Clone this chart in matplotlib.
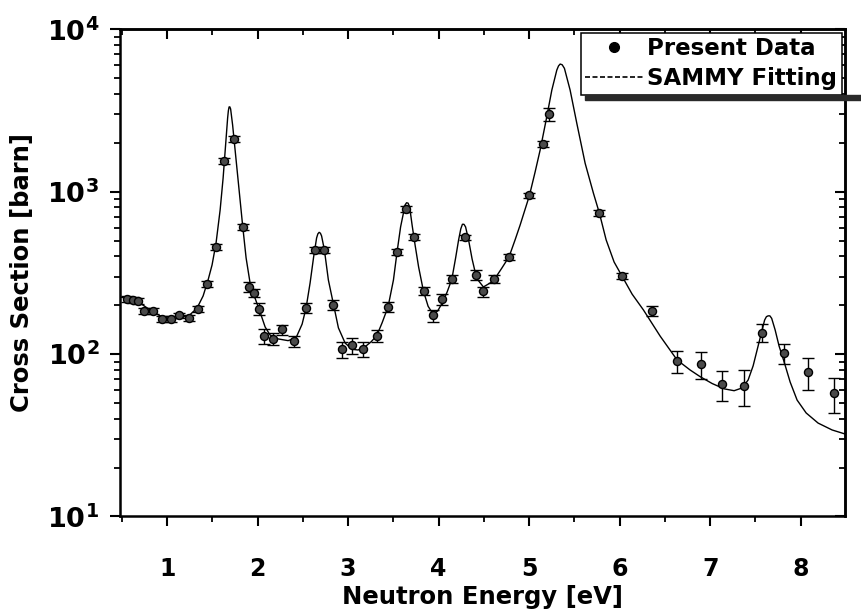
import numpy as np
import matplotlib
matplotlib.use('Agg')
import matplotlib.pyplot as plt
from matplotlib.lines import Line2D
from matplotlib.patches import Rectangle
from matplotlib.ticker import FixedLocator, LogLocator, FuncFormatter, MultipleLocator, NullFormatter

plt.rcParams['font.family'] = ['DejaVu Sans']
plt.rcParams['font.weight'] = 'bold'
plt.rcParams['mathtext.fontset'] = 'dejavusans'

# ---- measured data points (Present Data) ----
data_energy = [0.555, 0.621, 0.683, 0.743, 0.842, 0.948, 1.041, 1.133, 1.246, 1.339,
               1.439, 1.538, 1.633, 1.744, 1.836, 1.906, 1.965, 2.019, 2.072, 2.168,
               2.274, 2.407, 2.536, 2.635, 2.738, 2.838, 2.937, 3.041, 3.162, 3.317,
               3.442, 3.538, 3.641, 3.729, 3.834, 3.939, 4.042, 4.147, 4.288, 4.414,
               4.495, 4.613, 4.779, 5.003, 5.158, 5.218, 5.776, 6.024, 6.362, 6.635,
               6.897, 7.136, 7.376, 7.575, 7.818, 8.080, 8.370]
data_xs = [218, 215, 212, 184, 184, 164, 164, 173, 166, 189,
           269, 459, 1545, 2104, 607, 260, 239, 189, 129, 124,
           142, 120, 193, 438, 438, 202, 107, 113, 107, 130,
           196, 426, 782, 528, 245, 173, 218, 289, 523, 307,
           243, 289, 398, 948, 1977, 3004, 736, 304, 184, 91,
           86.5, 65.2, 63.9, 135.5, 101, 77.3, 57.4]
data_err = [9, 9, 9, 8, 8, 7, 7, 7, 7, 8,
            11, 20, 65, 90, 26, 18, 14, 16, 14, 11,
            10, 9, 14, 19, 19, 14, 12, 13, 11, 11,
            14, 18, 33, 22, 14, 15, 17, 16, 22, 22,
            17, 16, 17, 40, 84, 280, 31, 13, 13, 14,
            16, 14, 16, 17, 14, 17.5, 14]

# ---- SAMMY fitting curve ----
fit_energy = [0.481, 0.591, 0.702, 0.812, 0.923, 1.033, 1.144, 1.254, 1.331, 1.398,
              1.453, 1.497, 1.541, 1.586, 1.619, 1.646, 1.669, 1.677, 1.685, 1.693,
              1.702, 1.724, 1.751, 1.790, 1.834, 1.873, 1.917, 1.972, 2.028, 2.083,
              2.138, 2.227, 2.337, 2.425, 2.492, 2.536, 2.580, 2.619, 2.652, 2.666,
              2.680, 2.694, 2.707, 2.738, 2.782, 2.838, 2.893, 2.967, 3.044, 3.110,
              3.188, 3.254, 3.317, 3.376, 3.442, 3.501, 3.541, 3.580, 3.613, 3.630,
              3.646, 3.663, 3.680, 3.707, 3.740, 3.779, 3.832, 3.884, 3.934, 3.989,
              4.039, 4.094, 4.146, 4.188, 4.221, 4.245, 4.263, 4.280, 4.298, 4.331,
              4.370, 4.420, 4.495, 4.569, 4.617, 4.698, 4.779, 4.845, 4.901, 5.003,
              5.066, 5.122, 5.188, 5.251, 5.306, 5.325, 5.343, 5.365, 5.390, 5.453,
              5.527, 5.619, 5.711, 5.777, 5.851, 5.939, 6.024, 6.138, 6.263, 6.448,
              6.635, 6.779, 6.890, 7.022, 7.155, 7.265, 7.354, 7.420, 7.475, 7.519,
              7.564, 7.602, 7.622, 7.641, 7.660, 7.680, 7.718, 7.762, 7.818, 7.884,
              7.961, 8.061, 8.193, 8.348, 8.492]
fit_xs = [225, 217, 206, 187, 172, 165, 166, 175, 192, 228,
          286, 354, 483, 771, 1213, 1939, 2847, 3150, 3325, 3330,
          3231, 2574, 1807, 1100, 624, 391, 274, 221, 181, 147,
          131, 124, 121, 126, 153, 193, 274, 396, 519, 550,
          562, 555, 534, 438, 286, 203, 145, 117, 107, 106,
          111, 119, 130, 156, 196, 286, 426, 607, 750, 830,
          855, 850, 805, 624, 470, 344, 245, 197, 178, 184,
          206, 241, 289, 391, 505, 590, 630, 630, 607, 505,
          385, 293, 259, 274, 289, 338, 398, 505, 624, 945,
          1321, 1807, 2762, 4224, 5610, 5950, 6109, 6050, 5750, 4224,
          2636, 1496, 977, 736, 505, 369, 304, 234, 187, 129,
          92, 79.8, 72.6, 65.9, 61.1, 59.5, 61.9, 69.3, 84.6, 106,
          134, 162, 170, 172, 172, 166, 141, 112, 89.4, 67.3,
          52.1, 43.4, 37.6, 34.1, 32.2]

x_ticks = [1, 2, 3, 4, 5, 6, 7, 8]
y_ticks = [10, 100, 1000, 10000]
legend_labels = ['Present Data', 'SAMMY Fitting']
x_label = 'Neutron Energy [eV]'
y_label = 'Cross Section [barn]'

fig = plt.figure(figsize=(8.61, 6.14), dpi=100)
ax = fig.add_axes([0.1394, 0.1588, 0.8420, 0.7935])
ax.set_yscale('log')

ax.plot(fit_energy, fit_xs, color='black', lw=1.0, zorder=2)
ax.errorbar(data_energy, data_xs, yerr=data_err, fmt='o', ms=5.8, mfc='#4a4a4a',
            mec='black', mew=1.0, ecolor='black', elinewidth=1.0, capsize=4,
            capthick=1.0, zorder=3)

ax.set_xlim(0.48, 8.49)
ax.set_ylim(10, 1e4)

ax.xaxis.set_major_locator(FixedLocator(x_ticks))
ax.xaxis.set_minor_locator(MultipleLocator(0.5))
ax.yaxis.set_major_locator(FixedLocator(y_ticks))
ax.yaxis.set_minor_locator(LogLocator(base=10, subs=range(2, 10)))
ax.yaxis.set_minor_formatter(NullFormatter())
ax.yaxis.set_major_formatter(FuncFormatter(lambda v, p: r'$\mathbf{10^{%d}}$' % round(np.log10(v))))
ax.xaxis.set_major_formatter(FuncFormatter(lambda v, p: '%d' % v))

ax.tick_params(which='major', direction='out', length=7, width=1.5, labelsize=17)
ax.tick_params(axis='y', which='major', labelsize=19.5)
ax.tick_params(which='minor', direction='out', length=4, width=1.3)
ax.tick_params(axis='x', which='major', pad=22)
ax.tick_params(axis='y', which='major', pad=8)
for s in ax.spines.values():
    s.set_linewidth(1.8)

secx = ax.secondary_xaxis('top')
secx.xaxis.set_major_locator(FixedLocator(x_ticks))
secx.xaxis.set_minor_locator(MultipleLocator(0.5))
secx.tick_params(which='major', direction='in', length=7, width=1.5, labeltop=False)
secx.tick_params(which='minor', direction='in', length=4, width=1.3)
secx.spines['top'].set_linewidth(1.8)

secy = ax.secondary_yaxis('right')
secy.yaxis.set_major_locator(FixedLocator(y_ticks))
secy.yaxis.set_minor_locator(LogLocator(base=10, subs=range(2, 10)))
secy.yaxis.set_minor_formatter(NullFormatter())
secy.tick_params(which='major', direction='in', length=7, width=1.5, labelright=False)
secy.tick_params(which='minor', direction='in', length=4, width=1.3)
secy.spines['right'].set_linewidth(1.8)

ax.set_xlabel(x_label, fontsize=17.5, fontweight='bold', va='top')
ax.set_ylabel(y_label, fontsize=17.5, fontweight='bold')
ax.xaxis.set_label_coords(0.5, -0.140)
ax.yaxis.set_label_coords(-0.118, 0.5)

handles = [Line2D([], [], marker='o', ls='none', color='black', ms=7),
           Line2D([], [], color='black', ls=(0, (3, 1.5)), lw=1.2)]
leg = ax.legend(handles, legend_labels, loc='upper right', bbox_to_anchor=(1.0, 1.0),
                borderaxespad=0.15, prop={'size': 16.5, 'weight': 'bold'}, frameon=True,
                fancybox=False, edgecolor='black', framealpha=1, handlelength=2.5,
                handletextpad=0.2, borderpad=0.2, labelspacing=0.3)
leg.get_frame().set_linewidth(1.1)
leg.set_zorder(5)

fig.canvas.draw()
bb = leg.get_window_extent()
W, H = fig.bbox.width, fig.bbox.height
fig.patches.append(Rectangle(((bb.x0 + 4) / W, (bb.y0 - 5) / H), (W - bb.x0 - 4) / W, 4.5 / H,
                             transform=fig.transFigure, color='#2a2a2a', zorder=10))

fig.savefig('out.png', dpi=100)
